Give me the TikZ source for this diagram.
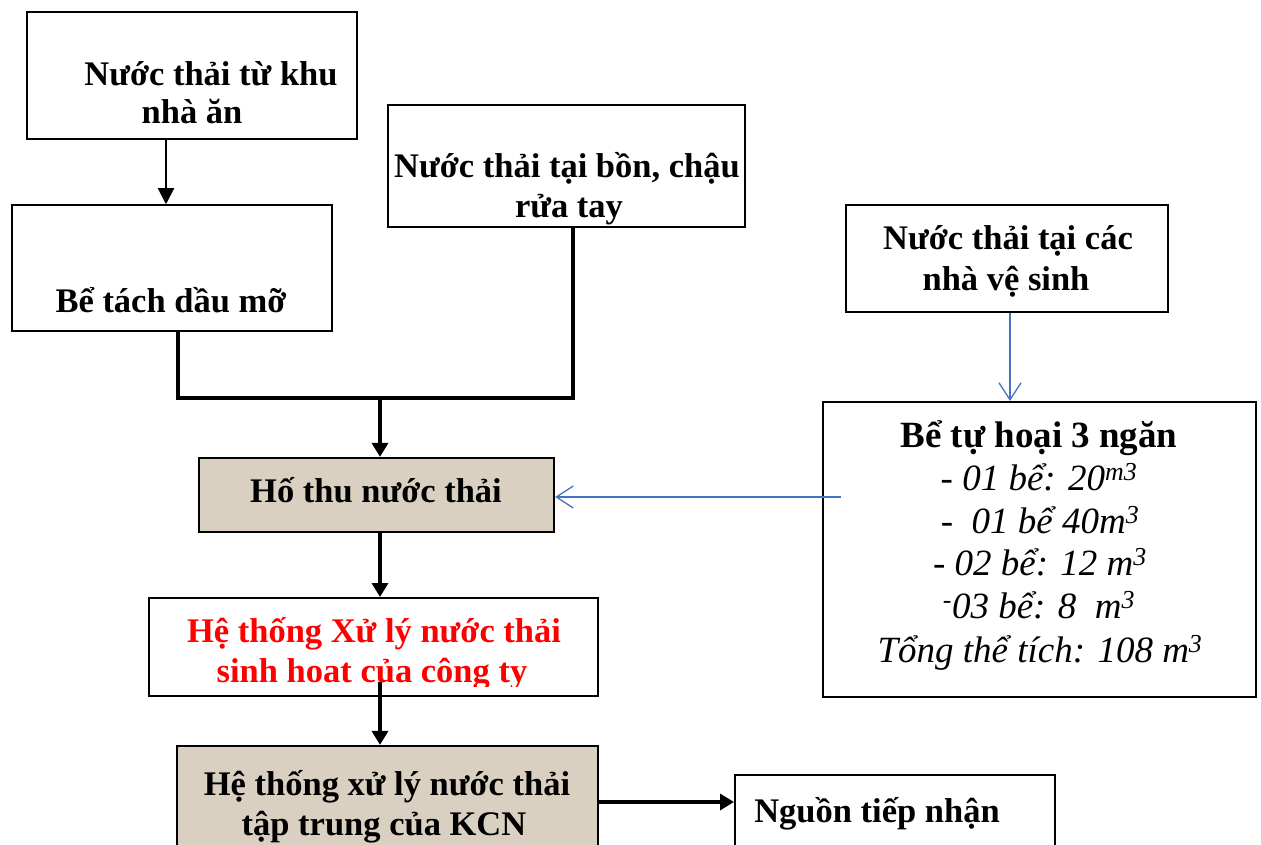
\documentclass[tikz,border=0pt]{standalone}
\usepackage{fontspec}
\setmainfont{Liberation Serif}
\usetikzlibrary{arrows.meta}
\definecolor{beige}{RGB}{217,208,193}
\definecolor{lineblue}{RGB}{68,114,196}
\begin{document}
\begin{tikzpicture}[x=1pt,y=-1pt,
  box/.style={draw=black,line width=1.5pt,inner sep=0pt,fill=white},
  fillbox/.style={box,fill=beige,line width=2.2pt},
  bt/.style={anchor=base,inner sep=0pt,font=\bfseries\fontsize{34.5}{39}\selectfont},
  it/.style={anchor=base,inner sep=0pt,font=\itshape\fontsize{37}{42}\selectfont},
  arr/.style={line width=2pt,-{Triangle[length=16pt,width=16pt]}},
  thickarr/.style={line width=3.5pt,-{Triangle[length=14pt,width=16pt]}},
  joinline/.style={line width=3.5pt},
  bluearr/.style={draw=lineblue,line width=1.3pt,-{Straight Barb[length=17pt,width=22pt,line width=1.3pt]}}]
\useasboundingbox (0,0) rectangle (1261,845);
\fill[white] (0,0) rectangle (1261,845);

% boxes
\node[box,minimum width=330,minimum height=127] (b1) at (192,75.5) {};
\node[box,minimum width=320,minimum height=126] (b2) at (172,268) {};
\node[box,minimum width=357,minimum height=122] (b3) at (566.5,166) {};
\node[box,minimum width=322,minimum height=107] (b4) at (1007,258.5) {};
\node[box,line width=2pt,minimum width=433,minimum height=295] (b5) at (1039.5,549.5) {};
\node[fillbox,minimum width=355,minimum height=74] (ho) at (376.5,495) {};
\node[box,line width=2pt,minimum width=449,minimum height=98] (xl) at (373.5,647) {};
\node[fillbox,minimum width=421,minimum height=120] (kcn) at (387.5,806) {};
\node[box,line width=2pt,minimum width=320,minimum height=100] (ng) at (895,825) {};

% texts
\node[bt] (t1a) at (211,86) {Nước thải từ khu};
\node[bt] (t1b) at (192,124) {nhà ăn};
\node[bt] (t2) at (171,312) {Bể tách dầu mỡ};
\node[bt] (t3a) at (567,178) {Nước thải tại bồn, chậu};
\node[bt] (t3b) at (569,218) {rửa tay};
\node[bt] (t4a) at (1008,249) {Nước thải tại các};
\node[bt] (t4b) at (1006,290) {nhà vệ sinh};
\node[bt,font=\bfseries\fontsize{37}{42}\selectfont] (t5) at (1039,447) {Bể tự hoại 3 ngăn};
\node[it] (t5a) at (1039,490) {- 01 bể: 20\textsuperscript{m3}};
\node[it] (t5b) at (1040,533) {-\ \ 01 bể 40m\textsuperscript{3}};
\node[it] (t5c) at (1040,575) {- 02 bể: 12 m\textsuperscript{3}};
\node[it] (t5d) at (1039,618) {\textsuperscript{-}03 bể: 8\ \ m\textsuperscript{3}};
\node[it] (t5e) at (1040,662) {Tổng thể tích: 108 m\textsuperscript{3}};
\node[bt] (tho) at (376,502) {Hố thu nước thải};
\begin{scope}
\clip (149,598) rectangle (598,686);
\node[bt,text=red] (txa) at (374,642) {Hệ thống Xử lý nước thải};
\node[bt,text=red] (txb) at (372,682) {sinh hoat của công ty};
\end{scope}
\node[bt] (tka) at (387,795) {Hệ thống xử lý nước thải};
\node[bt] (tkb) at (384,835) {tập trung của KCN};
\node[bt] (tng) at (877,822) {Nguồn tiếp nhận};

% connectors
\coordinate (c1) at (166,0);
\draw[arr] (b1.south -| c1) -- (b2.north -| c1);
\coordinate (jl) at (178,398);
\coordinate (jr) at (573,398);
\coordinate (jm) at (380,398);
\draw[joinline] (b2.south -| jl) -- (jl) -- (jr) -- (b3.south -| jr);
\draw[thickarr] (jm) -- (ho.north -| jm);
\draw[thickarr] (ho.south -| jm) -- (xl.north -| jm);
\coordinate (xs) at (380,682);
\draw[thickarr] (xs) -- (kcn.north -| xs);
\coordinate (ky) at (0,802);
\draw[thickarr] (kcn.east |- ky) -- (ng.west |- ky);
\coordinate (c4) at (1010,0);
\draw[bluearr] (b4.south -| c4) -- (b5.north -| c4);
\coordinate (bs) at (841,497);
\draw[bluearr] (bs) -- (ho.east |- bs);
\end{tikzpicture}
\end{document}
